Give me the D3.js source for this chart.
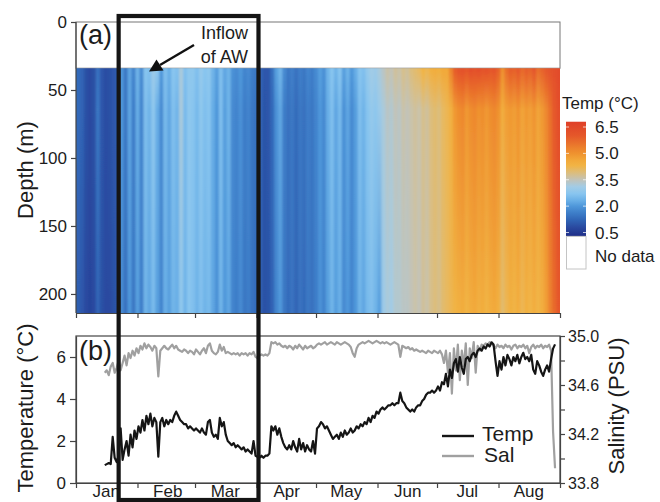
<!DOCTYPE html>
<html><head><meta charset="utf-8">
<script src="https://cdn.jsdelivr.net/npm/d3@7"></script>
<style>
body{margin:0;background:#fff;}
svg text{font-family:"Liberation Sans",Arial,sans-serif;fill:#1c1c1c;}
</style></head><body>
<svg id="chart" width="660" height="502"></svg>
<script>
// ---- data ----
const year = 2012;
const months = ["Jan","Feb","Mar","Apr","May","Jun","Jul","Aug"];
const depthTicks = [0, 50, 100, 150, 200];
const tempTicks = [0, 2, 4, 6];
const salTicks = [33.8, 34.0, 34.2, 34.4, 34.6, 34.8, 35.0];
const salLabels = [33.8, 34.2, 34.6, 35.0];
const legendTicks = [6.5, 5.0, 3.5, 2.0, 0.5];

// colour ramp (temperature -> colour)
const rampTemps = [0.3, 0.8, 1.2, 1.6, 2.0, 2.3, 2.7, 3.1, 3.5, 3.9, 4.3, 4.6, 5.0, 5.3, 6.0, 6.8];
const rampColors = ["#1f2e88","#2a4aa0","#3064b5","#3d7dc8","#4f97da","#68aee6","#88c5ef","#a2cce6",
                    "#c2c3b8","#dcbd7c","#f1b445","#f2a93a","#ef922f","#ec822d","#e5582a","#df3f28"];

// mooring section: 2-day columns from 1 Jan, sampled at three depths (m)
const columnDays = 2;
const profileDepths = [36, 64, 212];
const dataTopDepth = 34, dataBottomDepth = 214;
const tempShallow = [
 1.3,1.2,0.9,0.8,0.9,1.4,1.0,0.85,0.9,1.0,1.1,
 2.0,1.5,2.2,1.7,2.4,1.8,2.7,2.6,3.0,2.8,2.0,2.6,2.3,2.7,2.6,
 3.2,2.6,2.8,2.8,2.6,2.9,2.7,2.8,2.4,2.1,2.6,2.2,2.4,1.9,1.8,2.0,1.7,1.8,1.6,1.5,
 1.2,1.0,1.0,1.4,2.1,2.4,1.8,1.5,1.6,1.4,1.6,1.5,1.7,1.6,1.8,
 2.1,1.9,2.4,2.7,2.4,2.7,2.1,2.4,2.0,2.3,2.7,2.6,2.9,3.1,3.0,3.2,3.4,3.6,3.5,3.7,
 3.6,3.8,3.7,3.9,4.0,4.1,4.3,4.2,4.4,4.5,4.4,4.6,4.6,5.2,
 5.9,6.1,6.2,6.0,6.3,6.2,6.3,6.1,6.2,6.0,6.1,5.8,
 5.0,5.6,5.9,5.8,6.0,5.7,5.9,5.8,6.1,5.6,5.8,6.0,6.2,6.3,6.4];
const tempMiddle = [
 1.3,1.2,0.9,0.8,0.9,1.5,1.0,0.85,0.9,1.0,1.1,
 2.0,1.5,2.2,1.6,2.3,1.7,2.6,2.4,2.8,2.3,1.8,2.5,2.2,2.6,2.4,
 3.2,2.5,2.8,2.7,2.5,2.8,2.6,2.7,2.3,2.0,2.6,2.1,2.4,1.8,1.7,1.9,1.6,1.7,1.5,1.4,
 1.2,0.95,1.0,1.3,1.9,2.2,1.6,1.4,1.5,1.3,1.5,1.4,1.6,1.5,1.7,
 2.0,1.8,2.3,2.6,2.2,2.5,1.9,2.2,1.8,2.1,2.6,2.4,2.7,2.9,2.8,3.0,3.2,3.4,3.3,3.5,
 3.4,3.6,3.5,3.6,3.7,3.6,3.8,3.7,3.9,4.0,3.9,4.1,4.2,4.4,
 4.9,5.1,5.2,4.9,5.1,5.2,5.0,5.1,4.9,5.1,5.2,5.0,
 4.5,4.8,4.9,4.8,5.0,4.7,4.9,4.8,5.0,4.7,4.9,5.2,5.6,6.0,6.3];
const tempDeep = [
 1.1,1.0,0.8,0.7,0.8,1.2,0.9,0.8,0.8,0.9,1.0,
 1.8,1.4,2.0,1.5,2.1,1.6,2.4,2.2,2.5,2.1,1.7,2.3,2.1,2.4,2.3,
 2.8,2.4,2.7,2.6,2.4,2.6,2.4,2.5,2.2,1.9,2.4,2.0,2.2,1.7,1.6,1.8,1.5,1.6,1.4,1.3,
 1.1,0.9,0.95,1.2,1.7,2.0,1.5,1.3,1.4,1.2,1.4,1.3,1.5,1.4,1.6,
 1.9,1.7,2.1,2.4,2.1,2.3,1.8,2.0,1.7,2.0,2.4,2.2,2.5,2.6,2.4,2.1,3.0,3.2,3.1,3.3,
 3.3,3.4,3.4,3.5,3.6,3.5,3.7,3.6,3.8,3.9,3.8,4.0,4.1,4.2,
 4.3,4.4,4.5,4.3,4.5,4.6,4.4,4.5,4.3,4.5,4.6,4.4,
 4.0,4.2,4.4,4.3,4.5,4.2,4.4,4.3,4.5,4.3,4.5,4.8,5.3,5.7,6.0];

// single-instrument daily series, starting 15 Jan (day index 14)
const seriesStartDay = 14;
const instTemp = [
 0.85,0.9,0.95,0.9,2.2,1.2,1.0,1.3,2.6,1.1,
 1.6,2.0,1.3,2.3,1.7,2.5,2.1,2.7,2.4,3.0,
 2.5,3.2,2.8,3.3,2.7,3.1,2.9,1.25,2.9,3.1,
 2.7,3.0,2.8,3.0,2.9,3.2,3.4,3.2,3.0,2.9,
 2.8,2.8,2.6,2.7,2.6,2.5,2.6,2.5,2.4,2.6,
 2.4,2.3,2.9,3.0,2.4,2.2,2.3,2.1,3.1,2.7,
 2.9,2.3,2.0,1.9,1.8,1.9,1.7,1.8,1.7,1.6,
 1.7,1.5,1.6,1.5,1.4,2.0,1.3,1.25,1.2,1.3,
 1.2,1.3,1.3,1.4,2.7,2.5,2.7,2.3,2.6,2.2,
 1.9,1.7,1.6,1.8,1.6,2.0,1.7,1.5,2.1,1.6,
 1.9,1.5,1.8,1.6,1.5,2.0,1.4,2.6,2.7,2.9,
 2.8,2.6,2.7,2.5,2.3,2.1,2.2,2.3,2.1,2.4,
 2.2,2.5,2.3,2.4,2.6,2.4,2.5,2.7,2.6,2.8,
 2.7,2.9,2.8,3.1,2.9,3.2,3.1,3.4,3.3,3.5,
 3.6,3.5,3.6,3.7,3.7,3.8,3.7,3.8,3.8,4.3,
 3.9,3.8,3.6,3.5,3.4,3.5,3.4,3.6,3.7,3.7,
 3.9,4.0,4.2,4.3,4.3,4.4,4.3,4.4,4.6,4.4,
 4.8,4.7,5.2,4.6,5.4,5.0,5.7,5.9,5.3,6.0,
 5.5,5.2,5.9,6.0,5.8,6.1,6.2,6.0,6.3,6.4,
 6.3,6.5,6.4,6.6,6.5,6.7,6.6,5.8,5.1,5.8,
 5.4,6.0,5.6,6.1,5.9,5.6,6.0,5.8,6.1,5.7,
 6.0,6.2,5.9,6.0,5.8,6.1,5.4,5.2,5.8,5.6,
 5.3,5.1,5.4,5.6,5.3,5.9,6.4,6.6];
const instSal = [
 34.70,34.72,34.68,34.75,34.78,34.70,34.74,34.80,34.72,34.78,
 34.84,34.76,34.86,34.82,34.88,34.84,34.90,34.86,34.92,34.89,
 34.94,34.90,34.93,34.91,34.88,34.92,34.90,34.67,34.88,34.90,
 34.92,34.90,34.89,34.91,34.93,34.90,34.92,34.89,34.88,34.87,
 34.89,34.88,34.86,34.88,34.87,34.85,34.89,34.87,34.85,34.88,
 34.90,34.86,34.92,34.94,34.88,34.86,34.85,34.87,34.93,34.88,
 34.91,34.86,34.87,34.86,34.85,34.86,34.85,34.86,34.84,34.86,
 34.85,34.86,34.84,34.86,34.85,34.87,34.83,34.82,34.84,34.85,
 34.84,34.85,34.84,34.86,34.95,34.94,34.95,34.93,34.94,34.92,
 34.91,34.92,34.90,34.92,34.91,34.89,34.92,34.90,34.93,34.91,
 34.89,34.92,34.90,34.91,34.92,34.90,34.91,34.93,34.94,34.93,
 34.94,34.95,34.93,34.94,34.95,34.94,34.93,34.95,34.94,34.93,
 34.94,34.95,34.94,34.93,34.91,34.86,34.83,34.90,34.93,34.94,
 34.95,34.94,34.95,34.96,34.95,34.94,34.95,34.96,34.95,34.94,
 34.95,34.94,34.95,34.94,34.93,34.94,34.95,34.94,34.93,34.83,
 34.92,34.91,34.90,34.91,34.89,34.90,34.88,34.89,34.88,34.87,
 34.88,34.87,34.86,34.88,34.87,34.86,34.88,34.87,34.86,34.88,
 34.85,34.78,34.88,34.70,34.86,34.53,34.90,34.72,34.93,34.64,
 34.88,34.75,34.94,34.60,34.90,34.82,34.95,34.70,34.92,34.88,
 34.93,34.92,34.94,34.93,34.95,34.94,34.92,34.90,34.93,34.91,
 34.92,34.90,34.93,34.91,34.92,34.89,34.92,34.93,34.90,34.92,
 34.91,34.93,34.90,34.92,34.86,34.91,34.93,34.90,34.92,34.91,
 34.93,34.90,34.92,34.91,34.93,34.88,34.22,33.92];

const inflowPeriod = [new Date(year, 0, 22, 12), new Date(year, 3, 2)];

// ---- layout ----
const svg = d3.select("#chart");
const L = 76, R = 560;
const x = d3.scaleTime().domain([new Date(year, 0, 1), new Date(year, 8, 1)]).range([L, R]);
const dayDate = d => d3.timeHour.offset(new Date(year, 0, 1), d * 24);
const yDepth = d3.scaleLinear().domain([0, 214]).range([22, 313]);
const bTop = 336, bBot = 483;
const yTemp = d3.scaleLinear().domain([0, 7]).range([bBot, bTop]);
const ySal = d3.scaleLinear().domain([33.8, 35.0]).range([bBot, bTop]);
const color = d3.scaleLinear().domain(rampTemps).range(rampColors).clamp(true);

const defs = svg.append("defs");

// ---- panel (a): temperature section ----
defs.append("clipPath").attr("id", "secClip").append("rect")
  .attr("x", L).attr("y", yDepth(dataTopDepth))
  .attr("width", R - L).attr("height", yDepth(dataBottomDepth) - yDepth(dataTopDepth));
defs.append("filter").attr("id", "soften")
  .attr("x", "-2%").attr("y", "-2%").attr("width", "104%").attr("height", "104%")
  .append("feGaussianBlur").attr("stdDeviation", "1.3 0.6");

const profY0 = yDepth(profileDepths[0]), profY1 = yDepth(profileDepths[profileDepths.length - 1]);
const columns = tempMiddle.map((m, i) => ({ i, vals: [tempShallow[i], tempMiddle[i], tempDeep[i]] }));
columns.forEach(c => {
  const g = defs.append("linearGradient").attr("id", "col" + c.i)
    .attr("gradientUnits", "userSpaceOnUse")
    .attr("x1", 0).attr("x2", 0).attr("y1", profY0).attr("y2", profY1);
  profileDepths.forEach((d, k) => {
    g.append("stop").attr("offset", (yDepth(d) - profY0) / (profY1 - profY0))
      .attr("stop-color", color(c.vals[k]));
  });
});

// blank (no data) upper layer
svg.append("rect").attr("x", L).attr("y", yDepth(0))
  .attr("width", R - L).attr("height", yDepth(dataTopDepth) - yDepth(0))
  .attr("fill", "#fff").attr("stroke", "#777").attr("stroke-width", 1);

const sec = svg.append("g").attr("clip-path", "url(#secClip)")
  .append("g").attr("filter", "url(#soften)");
sec.selectAll("rect").data(columns).join("rect")
  .attr("x", d => x(dayDate(d.i * columnDays)) - (d.i === 0 ? 5 : 0))
  .attr("width", d => x(dayDate((d.i + 1) * columnDays)) - x(dayDate(d.i * columnDays)) + 0.6
                     + (d.i === 0 ? 5 : 0) + (d.i === columns.length - 1 ? 5 : 0))
  .attr("y", yDepth(dataTopDepth) - 4)
  .attr("height", yDepth(dataBottomDepth) - yDepth(dataTopDepth) + 8)
  .attr("fill", d => `url(#col${d.i})`);

function styleAxis(g, size) {
  g.selectAll("path.domain").attr("stroke", "#444").attr("stroke-width", 1.2);
  g.selectAll(".tick line").attr("stroke", "#444").attr("stroke-width", 1.2);
  g.selectAll("text").attr("font-size", size).attr("fill", "#1c1c1c")
    .attr("font-family", "Liberation Sans, Arial, sans-serif");
}

svg.append("g").attr("transform", `translate(${L},0)`)
  .call(d3.axisLeft(yDepth).tickValues(depthTicks).tickSize(5).tickSizeOuter(0).tickPadding(4))
  .call(g => styleAxis(g, 17))
  .call(g => g.select("path.domain").attr("d", `M0,${yDepth(0)}V${yDepth(dataBottomDepth)}`));

svg.append("g").attr("transform", `translate(0,${yDepth(dataBottomDepth)})`)
  .call(d3.axisBottom(x).ticks(d3.timeMonth.every(1)).tickSize(5).tickSizeOuter(0).tickFormat(""))
  .call(g => styleAxis(g, 17));

svg.append("text").attr("transform", `translate(33,170) rotate(-90)`)
  .attr("text-anchor", "middle").attr("font-size", 22).text("Depth (m)");
svg.append("text").attr("x", 79).attr("y", 44).attr("font-size", 27).text("(a)");

// annotation
svg.append("text").attr("x", 248).attr("y", 39).attr("text-anchor", "end").attr("font-size", 18).text("Inflow");
svg.append("text").attr("x", 248).attr("y", 63).attr("text-anchor", "end").attr("font-size", 18).text("of AW");
svg.append("line").attr("x1", 194).attr("y1", 45).attr("x2", 160).attr("y2", 65)
  .attr("stroke", "#111").attr("stroke-width", 2.4);
svg.append("path").attr("d", "M149,71.5 L156.5,59.5 L163.5,70.5 Z").attr("fill", "#111");

// colour legend
const cbY = d3.scaleLinear().domain([0.5, 6.5]).range([232.5, 127]);
const cbTop = cbY(6.8), cbBot = cbY(0.28);
const cbGrad = defs.append("linearGradient").attr("id", "cbGrad")
  .attr("gradientUnits", "userSpaceOnUse").attr("x1", 0).attr("x2", 0).attr("y1", cbTop).attr("y2", cbBot);
rampTemps.slice().reverse().forEach(t => {
  cbGrad.append("stop").attr("offset", Math.max(0, Math.min(1, (cbY(t) - cbTop) / (cbBot - cbTop))))
    .attr("stop-color", color(t));
});
svg.append("text").attr("x", 562).attr("y", 109).attr("font-size", 17).text("Temp (\u00B0C)");
svg.append("rect").attr("x", 566).attr("y", cbTop).attr("width", 20).attr("height", cbBot - cbTop)
  .attr("fill", "url(#cbGrad)");
svg.append("rect").attr("x", 566.5).attr("y", cbBot).attr("width", 19.5).attr("height", 269 - cbBot)
  .attr("fill", "#fff").attr("stroke", "#c4c4c4").attr("stroke-width", 1);
legendTicks.forEach(t => {
  svg.append("line").attr("x1", 566).attr("x2", 569).attr("y1", cbY(t)).attr("y2", cbY(t))
    .attr("stroke", "#fff").attr("stroke-opacity", 0.7).attr("stroke-width", 1);
  svg.append("line").attr("x1", 583).attr("x2", 586).attr("y1", cbY(t)).attr("y2", cbY(t))
    .attr("stroke", "#fff").attr("stroke-opacity", 0.7).attr("stroke-width", 1);
  svg.append("text").attr("x", 595).attr("y", cbY(t)).attr("dy", "0.36em")
    .attr("font-size", 17).text(t.toFixed(1));
});
svg.append("text").attr("x", 595).attr("y", 255.5).attr("dy", "0.36em").attr("font-size", 17).text("No data");

// ---- panel (b): single-instrument series ----
svg.append("rect").attr("x", L).attr("y", bTop).attr("width", R - L).attr("height", bBot - bTop)
  .attr("fill", "none").attr("stroke", "#444").attr("stroke-width", 1.2);

svg.append("g").attr("transform", `translate(${L},0)`)
  .call(d3.axisLeft(yTemp).tickValues(tempTicks).tickSize(6).tickSizeOuter(0).tickPadding(4)
    .tickFormat(d3.format("d")))
  .call(g => styleAxis(g, 17));
svg.append("g").attr("transform", `translate(${R},0)`)
  .call(d3.axisRight(ySal).tickValues(salTicks).tickSize(5).tickSizeOuter(0).tickPadding(3)
    .tickFormat(d => salLabels.some(s => Math.abs(s - d) < 1e-6) ? d.toFixed(1) : ""))
  .call(g => styleAxis(g, 16));
svg.append("g").attr("transform", `translate(0,${bBot})`)
  .call(d3.axisBottom(x).ticks(d3.timeMonth.every(1)).tickSize(5).tickSizeOuter(0).tickFormat(""))
  .call(g => styleAxis(g, 17));
svg.append("g").attr("transform", `translate(0,${bBot})`)
  .call(d3.axisBottom(x).tickValues(months.map((m, k) => new Date(year, k, 16)))
    .tickSize(0).tickPadding(2).tickFormat((d, k) => months[k]))
  .call(g => styleAxis(g, 17))
  .call(g => g.select("path.domain").remove());

const lineTemp = d3.line().x((d, i) => x(dayDate(seriesStartDay + i + 0.5))).y(d => yTemp(d));
const lineSal = d3.line().x((d, i) => x(dayDate(seriesStartDay + i + 0.5))).y(d => ySal(d));
svg.append("path").datum(instSal).attr("d", lineSal).attr("fill", "none")
  .attr("stroke", "#a0a0a0").attr("stroke-width", 2.2).attr("stroke-linejoin", "round");
svg.append("path").datum(instTemp).attr("d", lineTemp).attr("fill", "none")
  .attr("stroke", "#151515").attr("stroke-width", 2.2).attr("stroke-linejoin", "round");

svg.append("text").attr("x", 79).attr("y", 360).attr("font-size", 27).text("(b)");
svg.append("text").attr("transform", `translate(33,408) rotate(-90)`)
  .attr("text-anchor", "middle").attr("font-size", 22).text("Temperature (\u00B0C)");
svg.append("text").attr("transform", `translate(624,406) rotate(-90)`)
  .attr("text-anchor", "middle").attr("font-size", 22).text("Salinity (PSU)");

// series legend
svg.append("line").attr("x1", 442).attr("x2", 474).attr("y1", 436).attr("y2", 436)
  .attr("stroke", "#151515").attr("stroke-width", 2.4);
svg.append("line").attr("x1", 442).attr("x2", 474).attr("y1", 456).attr("y2", 456)
  .attr("stroke", "#a0a0a0").attr("stroke-width", 2.4);
svg.append("text").attr("x", 482).attr("y", 441).attr("font-size", 21).text("Temp");
svg.append("text").attr("x", 484).attr("y", 462).attr("font-size", 21).text("Sal");

// inflow period frame over both panels
svg.append("rect").attr("x", x(inflowPeriod[0])).attr("y", 16)
  .attr("width", x(inflowPeriod[1]) - x(inflowPeriod[0])).attr("height", 484)
  .attr("fill", "none").attr("stroke", "#151515").attr("stroke-width", 4.2);
</script>
</body></html>
